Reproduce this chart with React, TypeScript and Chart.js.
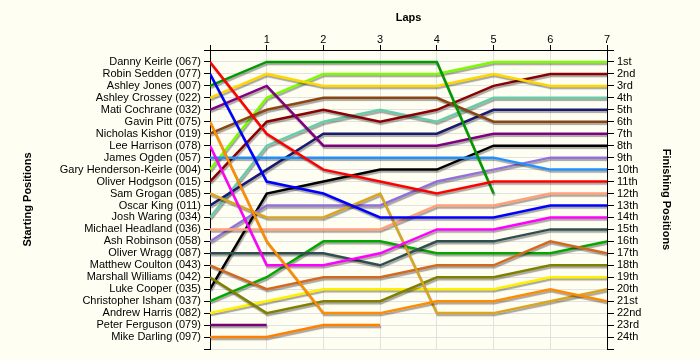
import React, { useEffect, useRef } from "react";
import { Chart, registerables } from "chart.js";

Chart.register(...registerables);

const laps = [0, 1, 2, 3, 4, 5, 6, 7];
const lapTickLabels = ["", "1", "2", "3", "4", "5", "6", "7"];

const drivers = [
  "Danny Keirle (067)",
  "Robin Sedden (077)",
  "Ashley Jones (007)",
  "Ashley Crossey (022)",
  "Mati Cochrane (032)",
  "Gavin Pitt (075)",
  "Nicholas Kishor (019)",
  "Lee Harrison (078)",
  "James Ogden (057)",
  "Gary Henderson-Keirle (004)",
  "Oliver Hodgson (015)",
  "Sam Grogan (085)",
  "Oscar King (011)",
  "Josh Waring (034)",
  "Michael Headland (036)",
  "Ash Robinson (058)",
  "Oliver Wragg (087)",
  "Matthew Coulton (043)",
  "Marshall Williams (042)",
  "Luke Cooper (035)",
  "Christopher Isham (037)",
  "Andrew Harris (082)",
  "Peter Ferguson (079)",
  "Mike Darling (097)",
];

const finishingLabels = [
  "1st", "2nd", "3rd", "4th", "5th", "6th", "7th", "8th", "9th", "10th",
  "11th", "12th", "13th", "14th", "15th", "16th", "17th", "18th", "19th",
  "20th", "21st", "22nd", "23rd", "24th",
];

// positions per lap (lap 0 = starting position)
const dannyKeirle = [1, 7, 10, 11, 12, 11, 11, 11];
const robinSedden = [2, 11, 12, 14, 14, 14, 13, 13];
const ashleyJones = [3, 1, 1, 1, 1, 12, null, null];
const ashleyCrossey = [4, 2, 3, 3, 3, 2, 3, 3];
const matiCochrane = [5, 3, 8, 8, 8, 7, 7, 7];
const gavinPitt = [6, 16, 22, 22, 21, 21, 20, 21];
const nicholasKishor = [7, 5, 4, 4, 4, 6, 6, 6];
const leeHarrison = [8, 18, 18, 17, 15, 15, 14, 14];
const jamesOgden = [9, 9, 9, 9, 9, 9, 10, 10];
const garyHendersonKeirle = [10, 4, 2, 2, 2, 1, 1, 1];
const oliverHodgson = [11, 6, 5, 6, 5, 3, 2, 2];
const samGrogan = [12, 14, 14, 12, 22, 22, 21, 20];
const oscarKing = [13, 10, 7, 7, 7, 5, 5, 5];
const joshWaring = [14, 8, 6, 5, 6, 4, 4, 4];
const michaelHeadland = [15, 15, 15, 15, 13, 13, 12, 12];
const ashRobinson = [16, 13, 13, 13, 11, 10, 9, 9];
const oliverWragg = [17, 17, 17, 18, 16, 16, 15, 15];
const matthewCoulton = [18, 20, 19, 19, 18, 18, 16, 17];
const marshallWilliams = [19, 22, 21, 21, 19, 19, 18, 18];
const lukeCooper = [20, 12, 11, 10, 10, 8, 8, 8];
const christopherIsham = [21, 19, 16, 16, 17, 17, 17, 16];
const andrewHarris = [22, 21, 20, 20, 20, 20, 19, 19];
const peterFerguson = [23, 23, null, null, null, null, null, null];
const mikeDarling = [24, 24, 23, 23, null, null, null, null];

const positionSeries = [
  dannyKeirle, robinSedden, ashleyJones, ashleyCrossey, matiCochrane,
  gavinPitt, nicholasKishor, leeHarrison, jamesOgden, garyHendersonKeirle,
  oliverHodgson, samGrogan, oscarKing, joshWaring, michaelHeadland,
  ashRobinson, oliverWragg, matthewCoulton, marshallWilliams, lukeCooper,
  christopherIsham, andrewHarris, peterFerguson, mikeDarling,
];

const lineColors = [
  "#ff0000", "#0000ff", "#009a00", "#ffd700", "#800080",
  "#ff8c00", "#8b4513", "#ff00ff", "#1e90ff", "#7cfc00",
  "#8b0000", "#daa520", "#191970", "#66cdaa", "#ffa07a",
  "#9370db", "#2f4f4f", "#d2691e", "#808000", "#000000",
  "#00a800", "#fff000", "#7a007a", "#ff8000",
];

const FONT = "'Liberation Sans', Arial, sans-serif";

const shadowPlugin = {
  id: "lineShadow",
  beforeDatasetsDraw(chart: any) {
    const ctx = chart.ctx;
    ctx.save();
    ctx.shadowColor = "rgba(0,0,0,0.35)";
    ctx.shadowBlur = 1;
    ctx.shadowOffsetX = 1;
    ctx.shadowOffsetY = 2;
  },
  afterDatasetsDraw(chart: any) {
    chart.ctx.restore();
  },
};

export default function App() {
  const ref = useRef<HTMLCanvasElement | null>(null);

  useEffect(() => {
    if (!ref.current) return;
    const allTicks = Array.from({ length: 26 }, (_, i) => ({ value: i }));
    const chart = new Chart(ref.current, {
      type: "line",
      data: {
        datasets: positionSeries.map((series, i) => ({
          label: drivers[i],
          data: laps.map((lap, j) => ({ x: lap, y: series[j] })),
          borderColor: lineColors[i],
          backgroundColor: lineColors[i],
          borderWidth: 2.5,
          pointRadius: 0,
          tension: 0,
          spanGaps: false,
          fill: false,
        })),
      },
      options: {
        animation: false,
        responsive: false,
        devicePixelRatio: 1,
        layout: { padding: { left: 0, right: 0, top: 0, bottom: 11 } },
        plugins: {
          legend: { display: false },
          tooltip: { enabled: false },
        },
        font: { family: FONT },
        scales: {
          x: {
            type: "linear",
            position: "top",
            min: 0,
            max: 7,
            afterBuildTicks: (s: any) => {
              s.ticks = laps.map((v) => ({ value: v }));
            },
            afterFit: (s: any) => {
              s.height = 50;
            },
            ticks: {
              autoSkip: false,
              maxRotation: 0,
              padding: -2,
              color: "#000",
              font: { family: FONT, size: 11 },
              callback: (v: any) => lapTickLabels[v] ?? "",
            },
            grid: { color: "#e2e2e2", tickColor: "#000", tickLength: 5 },
            border: { color: "#000", width: 1 },
            title: {
              display: true,
              text: "Laps",
              color: "#000",
              font: { family: FONT, size: 11, weight: "bold" },
              padding: { top: 11, bottom: 0 },
            },
          },
          y: {
            type: "linear",
            position: "left",
            min: 0,
            max: 25,
            reverse: true,
            afterBuildTicks: (s: any) => {
              s.ticks = allTicks.map((t) => ({ ...t }));
            },
            afterFit: (s: any) => {
              s.width = 210;
            },
            ticks: {
              autoSkip: false,
              padding: 3,
              color: "#000",
              font: { family: FONT, size: 11 },
              callback: (v: any) => drivers[v - 1] ?? "",
            },
            grid: { color: "#e2e2e2", tickColor: "#000", tickLength: 6 },
            border: { color: "#000", width: 1 },
            title: {
              display: true,
              text: "Starting Positions",
              color: "#000",
              font: { family: FONT, size: 11, weight: "bold" },
              padding: { top: 21, bottom: 0 },
            },
          },
          y2: {
            type: "linear",
            position: "right",
            min: 0,
            max: 25,
            reverse: true,
            afterBuildTicks: (s: any) => {
              s.ticks = allTicks.map((t) => ({ ...t }));
            },
            afterFit: (s: any) => {
              s.width = 93;
            },
            ticks: {
              autoSkip: false,
              padding: 3,
              color: "#000",
              font: { family: FONT, size: 11 },
              callback: (v: any) => finishingLabels[v - 1] ?? "",
            },
            grid: {
              drawOnChartArea: false,
              tickColor: "#000",
              tickLength: 7,
            },
            border: { color: "#000", width: 1 },
            title: {
              display: true,
              text: "Finishing Positions",
              color: "#000",
              font: { family: FONT, size: 11, weight: "bold" },
              padding: { top: 27, bottom: 0 },
            },
          },
        },
      } as any,
      plugins: [shadowPlugin],
    });
    return () => chart.destroy();
  }, []);

  return (
    <div
      style={{
        position: "fixed",
        left: 0,
        top: 0,
        width: 700,
        height: 360,
        background: "#fffef3",
      }}
    >
      <canvas ref={ref} width={700} height={360} style={{ width: 700, height: 360, display: "block" }} />
    </div>
  );
}
